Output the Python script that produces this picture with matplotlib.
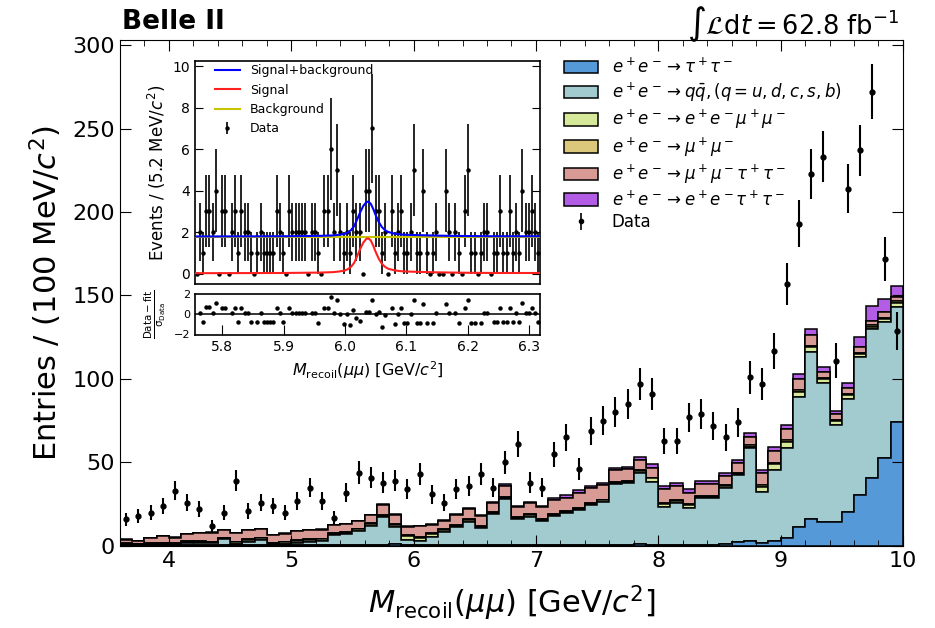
import numpy as np
import matplotlib.pyplot as plt
from matplotlib.patches import Patch
from matplotlib.lines import Line2D

# main plot: 100 MeV bins from 3.6 to 10 GeV
edges = np.round(np.arange(3.6, 10.05, 0.1), 2)
centers = 0.5 * (edges[:-1] + edges[1:])

n_data = [16, 18, 20, 24, 33, 26, 22, 12, 20, 39, 21, 26, 24, 20, 27, 35,
          27, 17, 32, 44, 41, 38, 39, 34, 43, 31, 26, 34, 36, 43, 35, 50,
          61, 38, 35, 55, 65, 46, 69, 75, 80, 85, 97, 91, 63, 63, 77, 79,
          72, 65, 74, 101, 97, 117, 157, 193, 223, 233, 111, 214, 237, 272, 172, 129]

tautau = [0.5] * 11 + [0.3] * 11 + [1.2] + [0.3] * 19 + [1.2] + [0.5] * 5 + \
         [0.8, 1.0, 2.5, 3.0, 1.6, 3.0, 5.0, 11.2, 16, 14.2, 14.5, 20.6, 30.5, 41, 52.5, 74.5]
qqbar = [0.3, 0.1, 0.3, 0.7, 0.7, 1.5, 1.5, 1.1, 3.5, 0.7, 2.1, 3.3, 0.7, 0.9, 1.7, 2.3,
         2.7, 6.3, 6.9, 8.9, 11.9, 16.9, 10.4, 3.3, 2.7, 5.3, 8.3, 10.9, 14.3, 10.3, 18.9, 27.7,
         15.7, 17.3, 14.7, 17.7, 19.3, 21.3, 24.3, 26.2, 36.7, 37.2, 42.8, 38.0, 23.0, 25.0, 22.5, 28.0,
         27.7, 34.0, 40.0, 55.5, 30.9, 42.5, 53.5, 77.8, 100, 83.6, 58.1, 67.4, 82.7, 89, 81.8, 68.8]
eemumu = [0.5] * 9 + [1.0] * 3 + [0.5] + [1.0] * 4 + [0.8] * 3 + [1.0] * 3 + [2.2, 2.0, 1.5] + \
         [0.8] * 5 + [1.0] + [0.8] * 11 + [2.0, 1.6, 1.5, 1.5] + [0.8] * 4 + \
         [1.0, 3.0, 3.5, 4.0, 3.4, 3.0, 2.0, 2.0, 2.2, 1.8, 1.4, 1.6, 2.4]
mumu = [0.3] * 20 + [0.5] * 31 + [0.8] * 13
mumutautau = [2.2, 1.6, 3.2, 3.8, 3.0, 4.2, 5.0, 5.6, 4.6, 5.3, 5.5, 5.1, 4.6, 4.9, 5.5, 5.5,
              5.5, 4.7, 4.7, 4.5, 4.7, 6.0, 5.5, 5.3, 6.3, 5.0, 5.3, 6.1, 6.5, 6.3, 5.2, 6.4,
              6.2, 6.8, 6.9, 8.2, 8.1, 9.1, 8.6, 8.6, 7.0, 7.1, 6.2, 5.9, 8.5, 8.4, 6.9, 7.3,
              7.1, 5.6, 5.7, 4.7, 7.2, 6.8, 6.7, 6.8, 6.8, 3.6, 3.6, 3.8, 3.5, 2.5, 3.6, 2.8]
eetautau = [0.2] * 21 + [0.4] * 10 + [1.0] + [0.5, 0.8, 0.8, 1.0, 1.5, 1.5, 1.5, 1.5, 1.6, 1.6] + \
           [2.0] * 9 + [2.5, 2.0, 2.5, 2.5, 3.0, 3.4, 2.8, 2.0, 2.6, 6.0, 9.0, 7.4, 6.6]

labels = [r'$e^+e^-\rightarrow\tau^+\tau^-$',
          r'$e^+e^-\rightarrow q\bar{q}, (q=u,d,c,s,b)$',
          r'$e^+e^-\rightarrow e^+e^-\mu^+\mu^-$',
          r'$e^+e^-\rightarrow\mu^+\mu^-$',
          r'$e^+e^-\rightarrow\mu^+\mu^-\tau^+\tau^-$',
          r'$e^+e^-\rightarrow e^+e^-\tau^+\tau^-$']
colors = ['#5599d8', '#a2cbd0', '#d6e99a', '#dcc87a', '#d89a94', '#b35ce6']

# inset: 5.2 MeV bins around the peak
in_edges = 5.756 + 0.0052 * np.arange(109)
in_centers = 0.5 * (in_edges[:-1] + in_edges[1:])
in_data = [0, 2, 1, 3, 3, 2, 4, 0, 3, 3, 0, 2, 3, 1, 3, 2, 2, 1, 0, 1, 2, 1, 1, 1, 1, 3, 2,
           1, 0, 3, 2, 2, 2, 2, 2, 0, 2, 2, 1, 0, 3, 3, 6, 2, 5, 2, 1, 2, 1, 3, 2, 2, 0, 4,
           4, 7, 3, 3, 1, 2, 0, 3, 1, 2, 3, 1, 1, 2, 5, 1, 1, 4, 1, 0, 1, 2, 0, 0, 4, 2, 0,
           2, 1, 0, 3, 5, 1, 1, 0, 1, 2, 2, 0, 1, 1, 3, 1, 1, 3, 1, 2, 1, 4, 2, 2, 3, 2, 1]
bkg_level = 1.77
sig_x = [5.756, 5.9, 5.96, 5.98, 5.99, 6.0, 6.005, 6.01, 6.015, 6.02, 6.025, 6.03, 6.035,
         6.038, 6.042, 6.046, 6.05, 6.055, 6.06, 6.065, 6.07, 6.08, 6.09, 6.1, 6.15, 6.2,
         6.25, 6.318]
sig_y = [0.02, 0.03, 0.05, 0.07, 0.1, 0.15, 0.22, 0.33, 0.52, 0.85, 1.2, 1.5, 1.68,
         1.7, 1.6, 1.35, 1.05, 0.72, 0.48, 0.33, 0.24, 0.16, 0.12, 0.1, 0.06, 0.04,
         0.03, 0.03]

fig = plt.figure(figsize=(9.35, 6.28), dpi=100)
ax = fig.add_axes([0.1283, 0.1306, 0.8374, 0.8057])

ax.hist([centers] * 6, bins=edges, weights=[tautau, qqbar, eemumu, mumu, mumutautau, eetautau],
        stacked=True, histtype='stepfilled', color=colors, edgecolor='black', linewidth=1.1)
n_data = np.array(n_data)
ax.errorbar(centers, n_data, yerr=np.sqrt(n_data), fmt='o', color='black', ms=3.5,
            elinewidth=1.5, capsize=0)

ax.set_xlim(3.6, 10.0)
ax.set_ylim(0, 303)
ax.set_xticks([4, 5, 6, 7, 8, 9, 10])
ax.set_xticks(np.arange(3.6, 10.01, 0.2), minor=True)
ax.tick_params(which='both', direction='in', top=True, right=True, labelsize=16)
ax.tick_params(which='major', length=8)
ax.tick_params(which='minor', length=4)
ax.set_xlabel(r'$M_{\rm recoil}(\mu\mu)$ [GeV/$c^2$]', fontsize=22, labelpad=9)
ax.set_ylabel(r'Entries / (100 MeV/$c^2$)', fontsize=22, labelpad=6)

handles = [Patch(facecolor=c, edgecolor='black', linewidth=1.1) for c in colors]
dh = ax.errorbar([], [], yerr=[], fmt='o', color='black', ms=3, elinewidth=1.2)
ax.legend(handles + [dh], labels + ['Data'], loc='upper left', bbox_to_anchor=(0.548, 0.995),
          frameon=False, fontsize=12, handlelength=2.05, handleheight=0.8, labelspacing=0.24)

fig.text(0.131, 0.965, 'Belle II', fontsize=19, fontweight='bold', va='center')
fig.text(0.962, 0.962, r'$\int\mathcal{L}\mathrm{d}t = 62.8$ fb$^{-1}$', fontsize=18.5,
         ha='right', va='center')

# inset fit panel
ai = fig.add_axes([0.2086, 0.5478, 0.369, 0.3551])
ar = fig.add_axes([0.2086, 0.4666, 0.369, 0.0653], sharex=ai)

in_data = np.array(in_data)
yerr = np.sqrt(in_data)
ai.errorbar(in_centers, in_data, yerr=yerr, fmt='o', color='black', ms=2.2,
            elinewidth=1.2, capsize=0, zorder=2)
ai.plot([in_edges[0], in_edges[-1]], [bkg_level, bkg_level], color='#c8c400', lw=1.5, zorder=3)
ai.plot(sig_x, sig_y, color='#ff2020', lw=1.5, zorder=4)
ai.plot(sig_x, np.array(sig_y) + bkg_level, color='#0000ff', lw=1.5, zorder=5)
ai.set_ylim(-0.5, 10.25)
ai.set_yticks([0, 2, 4, 6, 8, 10])
ai.tick_params(direction='in', right=True, labelsize=10, length=6, labelbottom=False, bottom=False)
ai.set_ylabel(r'Events / (5.2 MeV/$c^2$)', fontsize=12, labelpad=3)

lh = [Line2D([], [], color='#0000ff', lw=1.5), Line2D([], [], color='#ff2020', lw=1.5),
      Line2D([], [], color='#c8c400', lw=1.5),
      ai.errorbar([], [], yerr=[], fmt='o', color='black', ms=2.2, elinewidth=1.2)]
ai.legend(lh, ['Signal+background', 'Signal', 'Background', 'Data'], loc='upper left',
          bbox_to_anchor=(0.025, 1.035), frameon=False, fontsize=9, handlelength=2.0,
          handletextpad=0.8, labelspacing=0.5)

fit_at = np.interp(in_centers, sig_x, sig_y) + bkg_level
ok = in_data > 0
pull = (in_data[ok] - fit_at[ok]) / np.sqrt(in_data[ok])
ar.plot(in_centers[ok], pull, 'o', color='black', ms=2.2)
ar.axhline(0, color='black', lw=1.1)
ar.set_xlim(in_edges[0], in_edges[-1])
ar.set_ylim(-2.05, 2.05)
ar.set_yticks([-2, 0, 2])
ar.set_xticks([5.8, 5.9, 6.0, 6.1, 6.2, 6.3])
ar.tick_params(direction='in', labelsize=10, length=7)
ar.tick_params(axis='y', labelsize=8, length=0)
ar.set_ylabel(r'$\frac{\rm Data-fit}{\sigma_{\rm Data}}$', fontsize=10.5)
ar.set_xlabel(r'$M_{\rm recoil}(\mu\mu)$ [GeV/$c^2$]', fontsize=11.5)

for a in (ai, ar):
    for s in a.spines.values():
        s.set_linewidth(1.2)

fig.savefig('out.png', dpi=100)
